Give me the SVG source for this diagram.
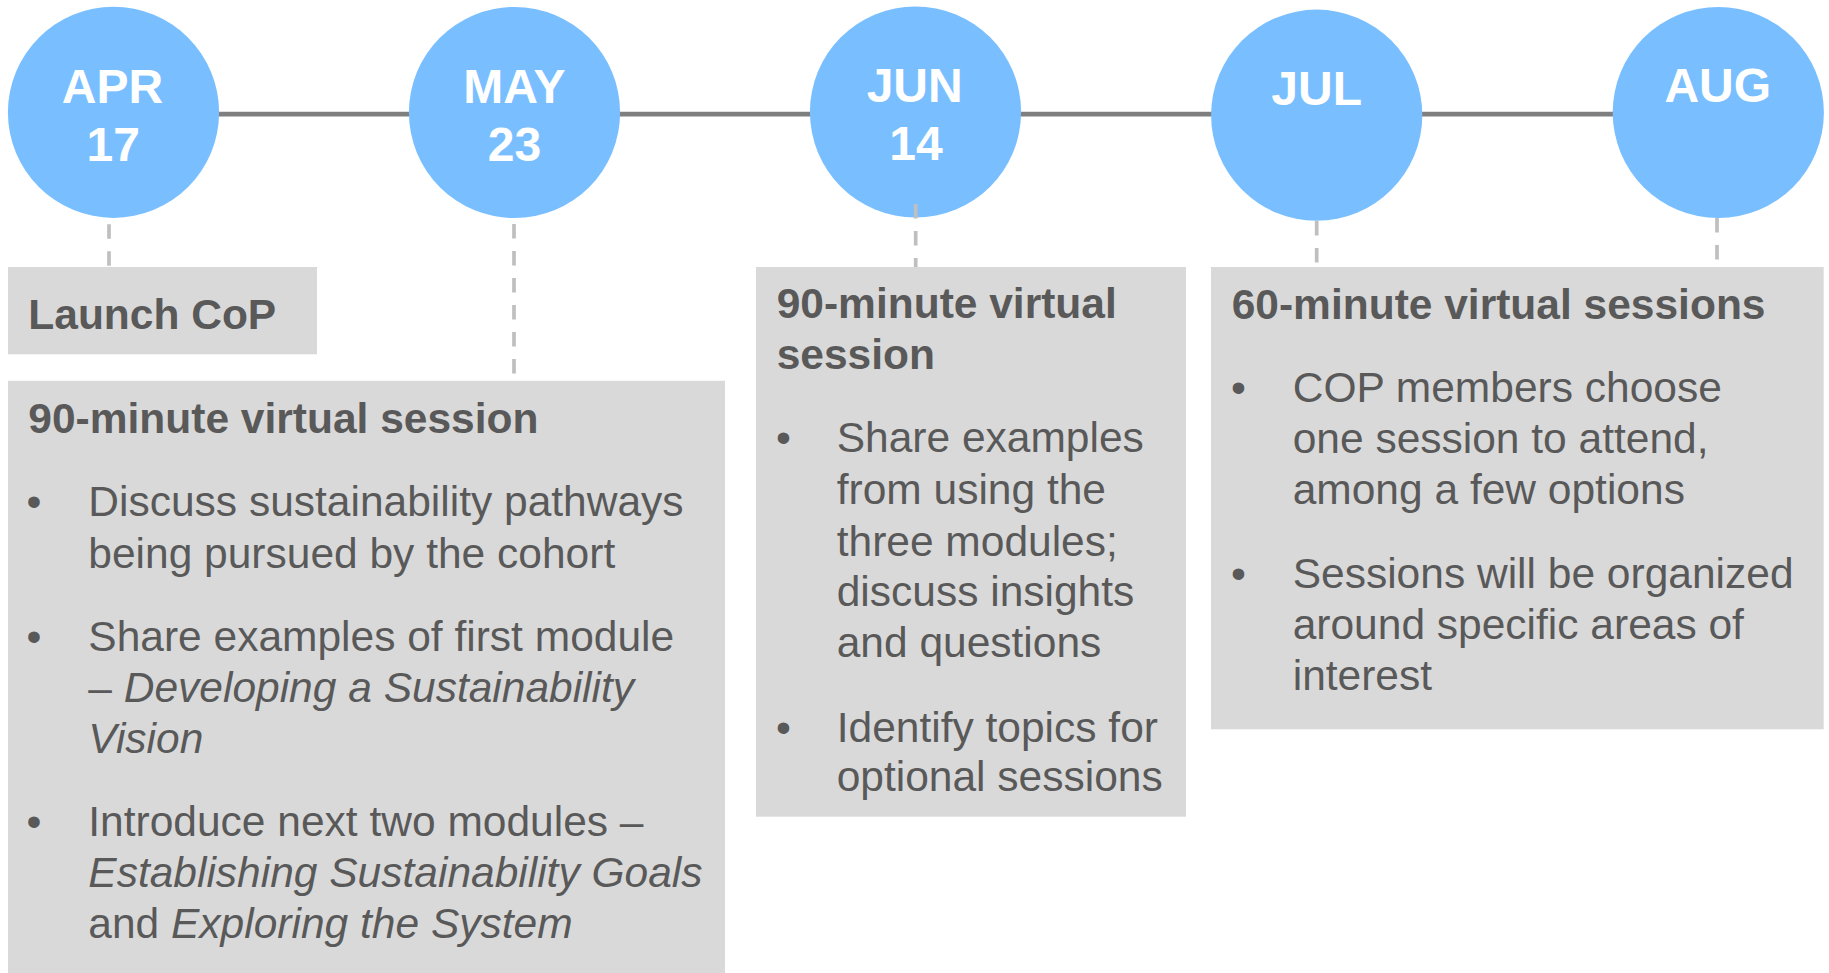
<svg xmlns="http://www.w3.org/2000/svg" width="1829" height="973" viewBox="0 0 1829 973">
  <style>
    text { font-family: "Liberation Sans", Arial, sans-serif; }
    .milestone { fill: #79BFFF; }
    .date { fill: #FFFFFF; font-weight: bold; font-size: 48px; text-anchor: middle; }
    .card { fill: #D9D9D9; }
    .head { fill: #595959; font-weight: bold; font-size: 42.5px; }
    .body { fill: #595959; font-size: 42.5px; }
    .it { font-style: italic; }
    .timeline { stroke: #7F7F7F; stroke-width: 4.7; fill: none; }
    .leader { stroke: #BFBFBF; stroke-width: 3.7; stroke-dasharray: 14.5 12.5; fill: none; }
  </style>

  <!-- timeline axis -->
  <g id="connectors">
    <line class="timeline" x1="113.5" y1="114.2" x2="1718.3" y2="114.2"/>
  </g>

  <!-- milestones -->
  <g id="apr">
    <circle class="milestone" cx="113.5" cy="112.3" r="105.6"/>
    <text class="date" x="112.5" y="102.7">APR</text>
    <text class="date" x="113.3" y="160.7">17</text>
  </g>
  <g id="may">
    <circle class="milestone" cx="514.5" cy="112.5" r="105.6"/>
    <text class="date" x="514.5" y="102.6">MAY</text>
    <text class="date" x="514.5" y="160.6">23</text>
  </g>
  <g id="jun">
    <circle class="milestone" cx="915.5" cy="112" r="105.6"/>
    <text class="date" x="914.7" y="102.3">JUN</text>
    <text class="date" x="916" y="160">14</text>
  </g>
  <g id="jul">
    <circle class="milestone" cx="1316.7" cy="115.2" r="105.6"/>
    <text class="date" x="1316.7" y="105.3">JUL</text>
  </g>
  <g id="aug">
    <circle class="milestone" cx="1718.3" cy="112.5" r="105.6"/>
    <text class="date" x="1717.8" y="102">AUG</text>
  </g>

  <!-- leaders from milestones to cards -->
  <g id="leaders">
    <line class="leader" x1="109" y1="224.3" x2="109" y2="267"/>
    <line class="leader" x1="514" y1="224" x2="514" y2="380.8"/>
    <line class="leader" x1="915.7" y1="204" x2="915.7" y2="267"/>
    <line class="leader" x1="1316.7" y1="221" x2="1316.7" y2="267"/>
    <line class="leader" x1="1717" y1="218" x2="1717" y2="267"/>
  </g>

  <!-- April card -->
  <g id="card-launch">
    <rect class="card" x="8" y="267" width="309" height="87.3"/>
    <text class="head" x="28.3" y="328.7">Launch CoP</text>
  </g>

  <!-- May card -->
  <g id="card-may">
    <rect class="card" x="8" y="380.8" width="717" height="592.2"/>
    <text class="head" x="28.3" y="433.3">90-minute virtual session</text>
    <text class="body" x="26.6" y="516">•</text>
    <text class="body" x="88.3" y="516">Discuss sustainability pathways</text>
    <text class="body" x="88.3" y="567.7">being pursued by the cohort</text>
    <text class="body" x="26.6" y="651">•</text>
    <text class="body" x="88.3" y="651">Share examples of first module</text>
    <text class="body" x="88.3" y="701.7" xml:space="preserve">– <tspan class="it">Developing a Sustainability</tspan></text>
    <text class="body it" x="88.3" y="753.3">Vision</text>
    <text class="body" x="26.6" y="835.7">•</text>
    <text class="body" x="88.3" y="835.7">Introduce next two modules –</text>
    <text class="body it" x="88.3" y="886.7">Establishing Sustainability Goals</text>
    <text class="body" x="88.3" y="938.3" xml:space="preserve">and <tspan class="it">Exploring the System</tspan></text>
  </g>

  <!-- June card -->
  <g id="card-jun">
    <rect class="card" x="756" y="267" width="430" height="549.7"/>
    <text class="head" x="776.7" y="318.3">90-minute virtual</text>
    <text class="head" x="776.7" y="369.3">session</text>
    <text class="body" x="775.9" y="452.3">•</text>
    <text class="body" x="836.7" y="452.3">Share examples</text>
    <text class="body" x="836.7" y="504">from using the</text>
    <text class="body" x="836.7" y="555.7">three modules;</text>
    <text class="body" x="836.7" y="605.7">discuss insights</text>
    <text class="body" x="836.7" y="656.7">and questions</text>
    <text class="body" x="775.9" y="741.7">•</text>
    <text class="body" x="836.7" y="741.7">Identify topics for</text>
    <text class="body" x="836.7" y="790.7">optional sessions</text>
  </g>

  <!-- July / August card -->
  <g id="card-jul">
    <rect class="card" x="1211" y="267" width="612.7" height="462.3"/>
    <text class="head" x="1231.7" y="319.3">60-minute virtual sessions</text>
    <text class="body" x="1230.9" y="401.7">•</text>
    <text class="body" x="1292.7" y="401.7">COP members choose</text>
    <text class="body" x="1292.7" y="452.7">one session to attend,</text>
    <text class="body" x="1292.7" y="504.3">among a few options</text>
    <text class="body" x="1230.9" y="588.3">•</text>
    <text class="body" x="1292.7" y="588.3">Sessions will be organized</text>
    <text class="body" x="1292.7" y="639">around specific areas of</text>
    <text class="body" x="1292.7" y="690">interest</text>
  </g>
</svg>
